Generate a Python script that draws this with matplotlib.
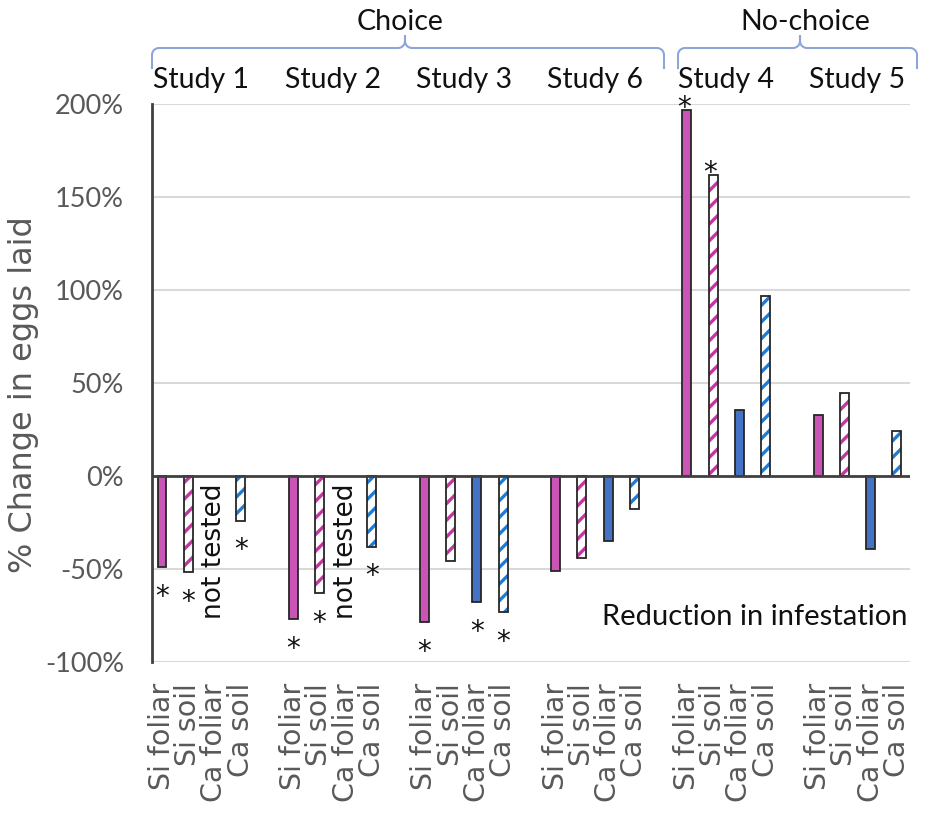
import numpy as np
import matplotlib
matplotlib.use("Agg")
import matplotlib.pyplot as plt
from matplotlib.lines import Line2D
import matplotlib.transforms as mtransforms

# ---------------- data ----------------
studies = ["Study 1", "Study 2", "Study 3", "Study 6", "Study 4", "Study 5"]
treatments = ["Si foliar", "Si soil", "Ca foliar", "Ca soil"]
groups = ["Choice", "No-choice"]

si_foliar = [-49, -77, -78.5, -51, 197, 33]
si_soil = [-51.5, -63, -45.5, -44, 162, 44.5]
ca_foliar = [np.nan, np.nan, -68, -35, 35.5, -39]
ca_soil = [-24, -38, -73, -18, 97, 24]

sig_si_foliar = [1, 1, 1, 0, 1, 0]
sig_si_soil = [1, 1, 0, 0, 1, 0]
sig_ca_foliar = [0, 0, 1, 0, 0, 0]
sig_ca_soil = [1, 1, 1, 0, 0, 0]

not_tested = [1, 1, 0, 0, 0, 0]  # Ca foliar not tested

yticks = [-100, -50, 0, 50, 100, 150, 200]
ytick_labels = ["-100%", "-50%", "0%", "50%", "100%", "150%", "200%"]

# ---------------- figure ----------------
W, H = 927, 815
fig = plt.figure(figsize=(W / 100, H / 100), dpi=100)
plt.rcParams['hatch.linewidth'] = 2.4

def fx(px):
    return px / W

def fy(py):
    return 1 - py / H

ax = fig.add_axes([fx(152), fy(662), 758 / W, 558 / H])
ax.set_xlim(-0.38, 28.5)
ax.set_ylim(-100, 200)

HFONT = "Lato"
VFONT = "DejaVu Sans"
GRAY = "#595959"

series = [
    (si_foliar, sig_si_foliar, dict(kind="solid", color="#CA55B6")),
    (si_soil, sig_si_soil, dict(kind="hatch", color="#C2369F")),
    (ca_foliar, sig_ca_foliar, dict(kind="solid", color="#4472C4")),
    (ca_soil, sig_ca_soil, dict(kind="hatch", color="#1F7BD3")),
]

bw = 0.34
nstud = len(studies)
for j, (vals, sig, st) in enumerate(series):
    x = np.arange(nstud) * 5 + j
    v = np.array(vals, dtype=float)
    ok = ~np.isnan(v)
    if st["kind"] == "solid":
        ax.bar(x[ok], v[ok], bw, color=st["color"], edgecolor="#262626",
               linewidth=1.3, zorder=3)
    else:
        ax.bar(x[ok], v[ok], bw, color="white", edgecolor=st["color"],
               hatch="//", linewidth=0, zorder=3)
        ax.bar(x[ok], v[ok], bw, fill=False, edgecolor="#262626",
               linewidth=1.3, zorder=4)
    for xi, vi, s in zip(x, v, sig):
        if s and not np.isnan(vi):
            if vi < 0:
                ax.text(xi, vi - 16, "*", ha="center", va="center",
                        fontsize=20, family=VFONT, color="#111111", zorder=5)
            else:
                ax.text(xi - 0.1, vi + 1, "*", ha="center", va="center",
                        fontsize=20, family=VFONT, color="#111111", zorder=5)

# not tested labels
for g, nt in enumerate(not_tested):
    if nt:
        ax.text(g * 5 + 2, -4, "not tested", rotation=90, ha="center", va="top",
                fontsize=19, family=VFONT, color="#111111", zorder=5)

# grid & axes
for yt in yticks:
    if yt == 0:
        continue
    ax.axhline(yt, color="#D9D9D9", lw=1.5, zorder=1)
ax.axhline(0, color="#404040", lw=2.0, zorder=6)
for s in ["top", "right", "bottom"]:
    ax.spines[s].set_visible(False)
ax.spines["left"].set_color("#404040")
ax.spines["left"].set_linewidth(2.0)

ax.set_yticks(yticks)
ax.set_yticklabels(ytick_labels, family=HFONT, fontsize=19.5, color=GRAY)
ax.tick_params(axis="y", length=0, pad=20)

xt = []
xl = []
for g in range(nstud):
    for j, t in enumerate(treatments):
        xt.append(g * 5 + j)
        xl.append(t)
ax.set_xticks(xt)
ax.set_xticklabels(xl, rotation=90, family=VFONT, fontsize=20.5, color=GRAY,
                   ha="center", va="top")
ax.tick_params(axis="x", length=0, pad=15)

fig.text(fx(24), fy(395), "% Change in eggs laid", rotation=90, ha="center",
         va="center", family=VFONT, fontsize=23, color=GRAY)

ax.text(28.4, -76, "Reduction in infestation", ha="right", va="center",
        family=HFONT, fontsize=21, color="#111111")

# study labels
trans = mtransforms.blended_transform_factory(ax.transData, fig.transFigure)
for g, name in enumerate(studies):
    ax.text(g * 5 + 1.5, fy(80), name, transform=trans, ha="center", va="center",
            family=HFONT, fontsize=20.5, color="#111111")

# group brackets
def bracket(x0, x1, xm, ytop, yend, ybump, r=7):
    pts = []
    pts.append((x0, yend))
    t = np.linspace(np.pi, 1.5 * np.pi, 10)
    pts += list(zip(x0 + r + r * np.cos(t), ytop + r + r * np.sin(t)))
    t = np.linspace(0.5 * np.pi, 0, 10)
    pts += list(zip(xm - r + r * np.cos(t), ytop - r + r * np.sin(t)))
    pts.append((xm, ybump))
    t = np.linspace(np.pi, 0.5 * np.pi, 10)
    pts += list(zip(xm + r + r * np.cos(t), ytop - r + r * np.sin(t)))
    t = np.linspace(1.5 * np.pi, 2 * np.pi, 10)
    pts += list(zip(x1 - r + r * np.cos(t), ytop + r + r * np.sin(t)))
    pts.append((x1, yend))
    xs = [fx(p[0]) for p in pts]
    ys = [fy(p[1]) for p in pts]
    fig.add_artist(Line2D(xs, ys, transform=fig.transFigure, color="#8FA5D8", lw=1.5))

bracket(152, 664, 405, 48, 68, 36)
bracket(678, 917, 800, 48, 68, 36)
fig.text(fx(400), fy(22), groups[0], ha="center", va="center", family=HFONT,
         fontsize=20.5, color="#111111")
fig.text(fx(805), fy(22), groups[1], ha="center", va="center", family=HFONT,
         fontsize=20.5, color="#111111")

fig.savefig("out.png", dpi=100)
